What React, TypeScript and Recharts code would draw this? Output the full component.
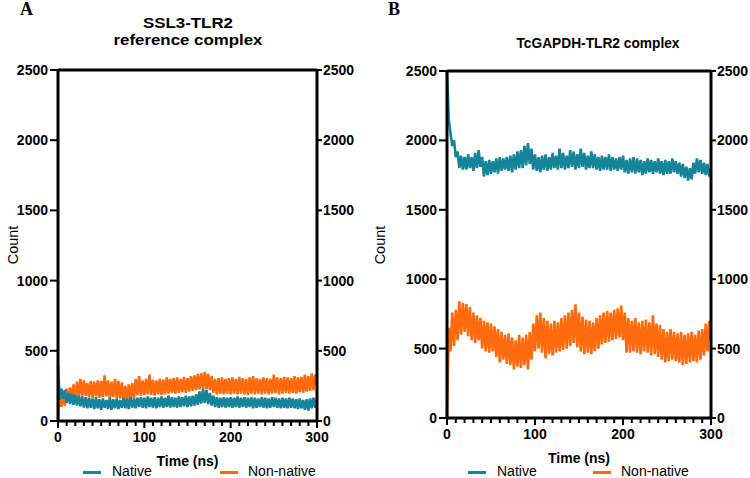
import React from 'react';
import { LineChart, Line, XAxis, YAxis, ReferenceLine, Legend } from 'recharts';

// time axis, one frame every 2 ns
const time = Array.from({ length: 151 }, (_, i) => i * 2);

const xTicks = [0, 10, 20, 30, 40, 50, 60, 70, 80, 90, 100, 110, 120, 130, 140, 150, 160, 170, 180, 190, 200, 210, 220, 230, 240, 250, 260, 270, 280, 290, 300];
const xLabels = [0, 100, 200, 300];
const yTicks = [0, 500, 1000, 1500, 2000, 2500];

// A: SSL3-TLR2 reference complex
const aNative = [
  400, 150, 230, 160, 220, 130, 200, 120, 195, 115,
  185, 110, 180, 105, 175, 95, 170, 90, 165, 95,
  160, 85, 170, 90, 155, 80, 160, 95, 150, 85,
  165, 80, 155, 90, 160, 85, 150, 95, 165, 90,
  160, 85, 170, 95, 160, 90, 165, 100, 170, 95,
  165, 90, 175, 100, 165, 95, 170, 90, 165, 100,
  175, 95, 165, 100, 180, 95, 170, 100, 165, 95,
  175, 100, 170, 105, 180, 100, 175, 105, 180, 110,
  190, 115, 210, 125, 230, 130, 220, 120, 200, 110,
  180, 100, 170, 95, 165, 100, 170, 95, 165, 100,
  170, 95, 165, 100, 175, 95, 165, 100, 170, 95,
  165, 100, 170, 90, 165, 95, 160, 100, 170, 95,
  165, 90, 160, 95, 170, 100, 165, 95, 160, 90,
  165, 95, 160, 90, 165, 95, 160, 90, 155, 85,
  160, 90, 150, 80, 155, 75, 160, 90, 165, 95,
  160,
];

const aNonNative = [
  0, 210, 100, 200, 110, 230, 140, 240, 150, 260,
  160, 280, 170, 300, 175, 290, 180, 270, 170, 285,
  165, 280, 175, 290, 165, 285, 170, 325, 175, 290,
  160, 280, 170, 300, 165, 285, 160, 275, 150, 250,
  145, 260, 150, 270, 160, 300, 185, 320, 180, 290,
  185, 300, 190, 330, 185, 295, 180, 290, 190, 300,
  185, 295, 190, 310, 195, 300, 200, 305, 195, 310,
  200, 300, 205, 315, 200, 305, 210, 320, 215, 325,
  220, 335, 225, 340, 230, 350, 225, 335, 220, 320,
  200, 300, 190, 305, 195, 310, 190, 300, 195, 305,
  190, 310, 195, 300, 190, 315, 195, 305, 190, 300,
  185, 310, 195, 320, 190, 305, 195, 300, 190, 310,
  195, 305, 190, 300, 195, 330, 200, 310, 190, 305,
  195, 315, 200, 310, 195, 305, 200, 320, 195, 310,
  205, 315, 200, 330, 210, 320, 215, 340, 220, 330,
  250,
];

// B: TcGAPDH-TLR2 complex
const bNative = [
  2500, 2150, 2050, 1960, 2000, 1880, 1920, 1800, 1890, 1790,
  1880, 1790, 1900, 1800, 1880, 1780, 1910, 1800, 1930, 1810,
  1880, 1740, 1850, 1750, 1860, 1760, 1850, 1770, 1870, 1760,
  1880, 1780, 1870, 1790, 1880, 1780, 1890, 1770, 1900, 1790,
  1920, 1800, 1930, 1800, 1960, 1820, 1980, 1830, 1940, 1790,
  1900, 1780, 1880, 1770, 1890, 1790, 1900, 1780, 1880, 1790,
  1910, 1800, 1890, 1790, 1940, 1800, 1910, 1790, 1890, 1800,
  1930, 1810, 1920, 1790, 1900, 1800, 1940, 1810, 1910, 1790,
  1890, 1800, 1920, 1800, 1900, 1790, 1880, 1780, 1890, 1790,
  1880, 1790, 1900, 1780, 1880, 1790, 1870, 1780, 1880, 1790,
  1890, 1770, 1860, 1760, 1870, 1770, 1880, 1760, 1870, 1770,
  1860, 1750, 1850, 1760, 1870, 1770, 1860, 1760, 1850, 1770,
  1870, 1760, 1850, 1750, 1860, 1760, 1850, 1760, 1870, 1770,
  1850, 1760, 1840, 1740, 1830, 1730, 1810, 1710, 1800, 1720,
  1840, 1760, 1870, 1770, 1860, 1760, 1840, 1750, 1830, 1740,
  1800,
];

const bNonNative = [
  0, 650, 480, 760, 520, 780, 560, 840, 600, 830,
  620, 820, 590, 800, 560, 760, 540, 740, 560, 720,
  500, 700, 480, 690, 470, 680, 480, 660, 440, 640,
  400, 620, 420, 600, 390, 610, 380, 580, 350, 560,
  370, 600, 360, 580, 380, 600, 350, 620, 420, 680,
  480, 740, 500, 760, 470, 720, 430, 700, 460, 680,
  450, 700, 470, 690, 480, 720, 490, 740, 500, 760,
  520, 780, 540, 820, 510, 760, 480, 730, 460, 710,
  470, 700, 460, 690, 480, 720, 500, 740, 530, 760,
  540, 770, 550, 760, 560, 780, 570, 790, 580, 810,
  560, 760, 470, 720, 470, 700, 480, 720, 470, 690,
  460, 700, 480, 710, 470, 690, 450, 740, 460, 680,
  440, 670, 420, 640, 400, 620, 410, 640, 420, 620,
  410, 610, 400, 620, 380, 600, 390, 610, 400, 620,
  410, 600, 400, 630, 420, 640, 450, 680, 480, 700,
  560,
];

const TEAL = '#15839a';
const ORANGE = '#ff6a0d';
const FONT = '"Liberation Sans", Arial, Helvetica, sans-serif';
const SERIF = '"Liberation Serif", "Times New Roman", serif';

const XTick = ({ x, y, payload }: any) => {
  const major = xLabels.includes(payload.value);
  return (
    <g>
      <line x1={x} x2={x} y1={y} y2={y + (major ? 7 : 5)} stroke="#000" strokeWidth={2} />
      {major && (
        <text x={x} y={y + 21} textAnchor="middle" fontFamily={FONT} fontWeight="bold" fontSize={14} fill="#000">
          {payload.value}
        </text>
      )}
    </g>
  );
};

const YTick = ({ x, y, payload, side }: any) => {
  if (side === 'right') {
    return (
      <g>
        <line x1={x} x2={x + 5} y1={y} y2={y} stroke="#000" strokeWidth={2} />
        <text x={x + 6} y={y + 5} textAnchor="start" fontFamily={FONT} fontWeight="bold" fontSize={14} fill="#000">
          {payload.value}
        </text>
      </g>
    );
  }
  return (
    <g>
      <line x1={x - 8} x2={x} y1={y} y2={y} stroke="#000" strokeWidth={2} />
      <text x={x - 10} y={y + 5} textAnchor="end" fontFamily={FONT} fontWeight="bold" fontSize={14} fill="#000">
        {payload.value}
      </text>
    </g>
  );
};

const LegendBox = ({ nativeX, nonNativeX }: { nativeX: number; nonNativeX: number }) => (
  <div style={{ position: 'relative', width: 375, height: 18, fontFamily: FONT, fontSize: 14, color: '#000' }}>
    <div style={{ position: 'absolute', left: nativeX, top: 11, width: 18, height: 3, background: TEAL }} />
    <span style={{ position: 'absolute', left: nativeX + 29, top: 4, lineHeight: '14px', whiteSpace: 'nowrap' }}>Native</span>
    <div style={{ position: 'absolute', left: nonNativeX, top: 11, width: 18, height: 3, background: ORANGE }} />
    <span style={{ position: 'absolute', left: nonNativeX + 28, top: 4, lineHeight: '14px', whiteSpace: 'nowrap' }}>Non-native</span>
  </div>
);

interface PanelProps {
  native: number[];
  nonNative: number[];
  top: number;
  bottom: number;
  leftW: number;
  rightW: number;
  nativeX: number;
  nonNativeX: number;
}

const Panel = ({ native, nonNative, top, bottom, leftW, rightW, nativeX, nonNativeX }: PanelProps) => {
  const rows = time.map((t, i) => ({ t, native: native[i], nonNative: nonNative[i] }));
  return (
    <LineChart width={375} height={478} data={rows} margin={{ top, right: 0, bottom, left: 0 }}>
      <XAxis
        dataKey="t"
        type="number"
        domain={[0, 300]}
        ticks={xTicks}
        interval={0}
        tickSize={0}
        tickMargin={0}
        tickLine={false}
        axisLine={{ stroke: '#000', strokeWidth: 3 }}
        tick={<XTick />}
        height={30}
      />
      <YAxis
        yAxisId="left"
        orientation="left"
        type="number"
        domain={[0, 2500]}
        allowDataOverflow
        ticks={yTicks}
        interval={0}
        tickSize={0}
        tickMargin={0}
        tickLine={false}
        axisLine={{ stroke: '#000', strokeWidth: 3 }}
        tick={<YTick side="left" />}
        width={leftW}
      />
      <YAxis
        yAxisId="right"
        orientation="right"
        type="number"
        domain={[0, 2500]}
        allowDataOverflow
        ticks={yTicks}
        interval={0}
        tickSize={0}
        tickMargin={0}
        tickLine={false}
        axisLine={{ stroke: '#000', strokeWidth: 3 }}
        tick={<YTick side="right" />}
        width={rightW}
      />
      <ReferenceLine yAxisId="left" y={2500} stroke="#000" strokeWidth={3} />
      {/* both axes share the same 0-2500 scale */}
      <Line yAxisId="right" type="linear" dataKey="nonNative" stroke={ORANGE} strokeWidth={2.6} dot={false} isAnimationActive={false} />
      <Line yAxisId="left" type="linear" dataKey="native" stroke={TEAL} strokeWidth={2.6} dot={false} isAnimationActive={false} />
      <Legend
        layout="vertical"
        verticalAlign="middle"
        align="center"
        wrapperStyle={{ left: 0, top: 460, width: 375 }}
        content={() => <LegendBox nativeX={nativeX} nonNativeX={nonNativeX} />}
      />
    </LineChart>
  );
};

export default function App() {
  return (
    <div style={{ position: 'absolute', left: 0, top: 0, width: 750, height: 478, background: '#fff', overflow: 'hidden' }}>
      <div style={{ position: 'absolute', left: 0, top: 0 }}>
        <Panel native={aNative} nonNative={aNonNative} top={70} bottom={27} leftW={58} rightW={58} nativeX={83} nonNativeX={220} />
      </div>
      <div style={{ position: 'absolute', left: 375, top: 0 }}>
        <Panel native={bNative} nonNative={bNonNative} top={71} bottom={30} leftW={72} rightW={39} nativeX={93} nonNativeX={218} />
      </div>
      <svg width={750} height={478} style={{ position: 'absolute', left: 0, top: 0, pointerEvents: 'none' }}>
        <text x={20} y={15} fontFamily={SERIF} fontWeight="bold" fontSize={18}>A</text>
        <text x={388} y={15} fontFamily={SERIF} fontWeight="bold" fontSize={18}>B</text>
        <text x={188} y={28} textAnchor="middle" fontFamily={FONT} fontWeight="bold" fontSize={14.5} textLength={90} lengthAdjust="spacingAndGlyphs">SSL3-TLR2</text>
        <text x={188} y={45} textAnchor="middle" fontFamily={FONT} fontWeight="bold" fontSize={14.5} textLength={149} lengthAdjust="spacingAndGlyphs">reference complex</text>
        <text x={598} y={48} textAnchor="middle" fontFamily={FONT} fontWeight="bold" fontSize={15} textLength={163} lengthAdjust="spacingAndGlyphs">TcGAPDH-TLR2 complex</text>
        <text x={18} y={245} textAnchor="middle" transform="rotate(-90 18 245)" fontFamily={FONT} fontSize={14.5}>Count</text>
        <text x={385} y={245} textAnchor="middle" transform="rotate(-90 385 245)" fontFamily={FONT} fontSize={14.5}>Count</text>
        <text x={187.5} y={466} textAnchor="middle" fontFamily={FONT} fontWeight="bold" fontSize={14}>Time (ns)</text>
        <text x={579} y={463} textAnchor="middle" fontFamily={FONT} fontWeight="bold" fontSize={14}>Time (ns)</text>
      </svg>
    </div>
  );
}
